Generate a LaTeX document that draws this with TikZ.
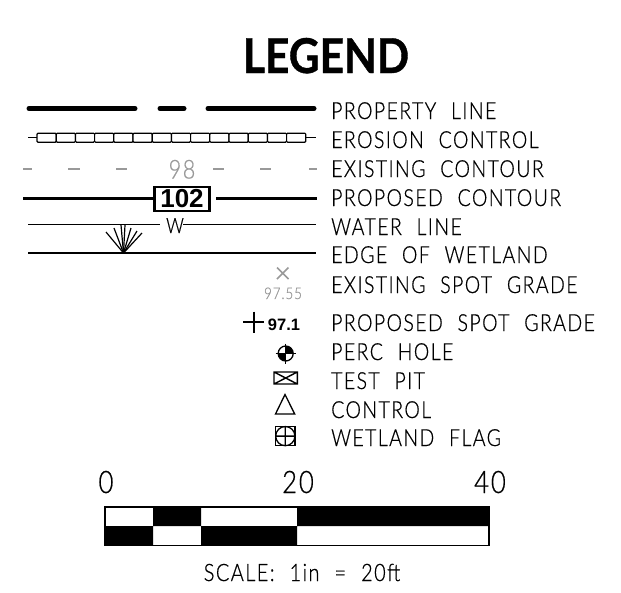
\documentclass[tikz,border=0pt]{standalone}
\usepackage{fontspec}
\setmainfont{Lato Light}
\newfontfamily\boldf{Liberation Sans Bold}
\newfontfamily\titlef{Lato Bold}[FakeBold=0.8,FakeStretch=0.885]
\newfontfamily\capsf{Lato Light}[LetterSpace=6,FakeBold=0.6,FakeStretch=0.83,WordSpace=2.2]
\definecolor{gr}{gray}{0.6}
\tikzset{
 lab/.style={anchor=base west,inner sep=0,font=\capsf\fontsize{23.5}{23.5}\selectfont},
 num/.style={anchor=base,inner sep=0,font=\capsf\fontsize{31}{31}\selectfont},
 thin line/.style={line width=1.6pt},
 thick line/.style={line width=2.8pt},
 prop/.style={line width=5pt,line cap=round},
 sym/.style={line width=1.3pt},
 graydash/.style={line width=1.8pt,gr}
}
\begin{document}
\begin{tikzpicture}[x=1pt,y=-1pt]
\useasboundingbox (0,0) rectangle (621,592);
\node[anchor=base,inner sep=0,font=\titlef\fontsize{48}{48}\selectfont] (title) at (326,73) {LEGEND};
% property line
\draw[prop] (29,108.5) coordinate (p1) -- (135,108.5) coordinate (p2);
\draw[prop] (160,108.5) coordinate (p3) -- (184,108.5) coordinate (p4);
\draw[prop] (208,108.5) coordinate (p5) -- (314,108.5) coordinate (p6);
\node[lab] (l1) at (331,119) {PROPERTY LINE};
% erosion
\coordinate (e1) at (28,137.7); \coordinate (e2) at (316,137.7);
\draw[line width=1.4pt] (e1) -- (e2);
\foreach \i in {0,...,13}
  \draw[line width=1.2pt,fill=white,rounded corners=1pt] ({37+19.2*\i},133.2) rectangle ({37+19.2*(\i+1)},142.2);
\node[lab] (l2) at (331,148) {EROSION CONTROL};
% existing contour
\foreach \a/\b in {23/32,68/80,116/127,213/224,260/271,309/317}
  \draw[graydash] (\a,169.3) -- (\b,169.3);
\node[anchor=base,inner sep=0,font=\capsf\fontsize{26}{26}\selectfont,text=gr] (n98) at (182,178.5) {98};
\node[lab] (l3) at (331,177) {EXISTING CONTOUR};
% proposed contour
\node[draw,line width=2.6pt,minimum width=55pt,minimum height=24pt,inner sep=0,font=\boldf\fontsize{26}{26}\selectfont] (n102) at (182,199) {102};
\coordinate (c1) at (23,198.3); \coordinate (c2) at (216,198.3); \coordinate (c3) at (317,198.3);
\draw[thick line] (c1) -- (c1 -| n102.west);
\draw[thick line] (c2) -- (c3);
\node[lab] (l4) at (331,206) {PROPOSED CONTOUR};
% water line
\node[inner sep=0,font=\capsf\fontsize{21}{21}\selectfont,anchor=base] (w) at (175,233) {W};
\coordinate (w1) at (28,224.3); \coordinate (w2) at (160,224.3); \coordinate (w3) at (183,224.3); \coordinate (w4) at (316,224.3);
\draw[thin line] (w1) -- (w2);
\draw[thin line] (w3) -- (w4);
\node[lab] (l5) at (331,235) {WATER LINE};
% wetland edge
\coordinate (g1) at (28,253); \coordinate (g2) at (316,253); \coordinate (f) at (123.5,253);
\draw[thin line] (g1) -- (g2);
\foreach \x/\y in {106/232,114/228,121/225,125/225,131/228,137/231,142/233}
  \draw[line width=1.2pt] (f) -- (\x,\y);
\node[lab] (l6) at (331,263) {EDGE OF WETLAND};
% existing spot
\draw[line width=1.5pt,gr] (277,267.5) -- (288.5,279) (277,279) -- (288.5,267.5);
\node[anchor=base,inner sep=0,font=\capsf\fontsize{16}{16}\selectfont,text=gr] (n9755) at (283,299) {97.55};
\node[lab] (l7) at (331,293) {EXISTING SPOT GRADE};
% proposed spot
\draw[line width=1.6pt] (243.3,321.7) -- (264.3,321.7) (254,311.7) -- (254,333);
\node[anchor=base,inner sep=0,font=\boldf\fontsize{16.5}{16.5}\selectfont] (n971) at (284,330) {97.1};
\node[lab] (l8) at (331,331) {PROPOSED SPOT GRADE};
% perc hole
\fill[black] (285.7,353.5) -- (285.7,346) arc (270:360:7.5) -- cycle;
\fill[black] (285.7,353.5) -- (285.7,361) arc (90:180:7.5) -- cycle;
\draw[sym] (285.7,353.5) circle (7.5);
\draw[sym] (275.5,353.5) -- (296,353.5) (285.7,343.5) -- (285.7,364);
\node[lab] (l9) at (331,360) {PERC HOLE};
% test pit
\draw[line width=1.4pt] (274,372) rectangle (297.3,384) (274,372) -- (297.3,384) (274,384) -- (297.3,372);
\node[lab] (l10) at (331,389) {TEST PIT};
% control
\draw[line width=1.3pt,line join=miter] (275.5,414) -- (294.7,414) -- (285,394.5) -- cycle;
\node[lab] (l11) at (331,418) {CONTROL};
% wetland flag
\draw[line width=1.3pt] (275.7,426.5) rectangle (295,445.8);
\draw[line width=1.3pt] (285.3,436.1) circle (9.6) (275.7,436.1) -- (295,436.1) (285.3,426.5) -- (285.3,445.8);
\node[lab] (l12) at (331,446) {WETLAND FLAG};
% scale
\node[num] (s0) at (106,493) {0};
\node[num] (s20) at (298,493) {20};
\node[num] (s40) at (490,493) {40};
\fill[black] (153,507) rectangle (201,526) (297,507) rectangle (489,526) (105,526) rectangle (153,545.7) (201,526) rectangle (297,545.7);
\draw[line width=1.1pt] (105,507) rectangle (489,545.7);
\node[anchor=base,inner sep=0,font=\capsf\fontsize{24}{24}\selectfont] (sc) at (302,581) {SCALE: 1in = 20ft};
\end{tikzpicture}
\end{document}
